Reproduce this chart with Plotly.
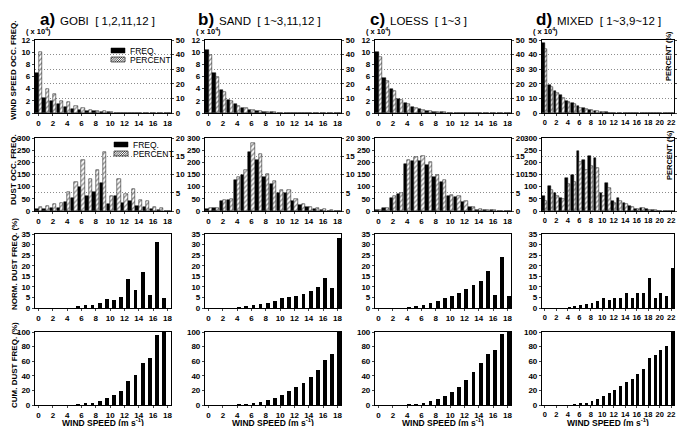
import plotly.graph_objects as go

W, H = 685, 426

# ---------------- data ----------------
cats_abc = list(range(19))      # wind speed categories 0..18 (m/s)
cats_d = list(range(23))        # wind speed categories 0..22 (m/s)

# Row 1: wind speed occurrence frequency (x10^4) and percent
ws_freq_gobi = [6.6, 2.5, 2.0, 1.4, 1.0, 0.7, 0.5, 0.4, 0.3, 0.2, 0.1, 0.05, 0.05, 0.02, 0.01, 0, 0, 0, 0]
ws_pct_gobi = [41.7, 16.2, 12.9, 8.3, 7.5, 5.0, 3.7, 2.1, 1.5, 1.2, 0.6, 0.3, 0.2, 0.1, 0.05, 0, 0, 0, 0]
ws_freq_sand = [10.3, 6.5, 3.8, 2.1, 1.4, 0.85, 0.5, 0.3, 0.15, 0.1, 0.05, 0.02, 0, 0, 0, 0, 0, 0, 0]
ws_pct_sand = [39.6, 24.6, 14.6, 8.0, 5.0, 3.3, 2.0, 1.2, 0.6, 0.4, 0.2, 0.1, 0, 0, 0, 0, 0, 0, 0]
ws_freq_loess = [10.0, 5.7, 4.0, 2.3, 1.7, 1.0, 0.6, 0.35, 0.2, 0.1, 0.05, 0.02, 0, 0, 0, 0, 0, 0, 0]
ws_pct_loess = [38.3, 21.7, 15.0, 9.2, 6.3, 3.7, 1.9, 1.2, 0.6, 0.4, 0.2, 0.1, 0, 0, 0, 0, 0, 0, 0]
ws_freq_mixed = [48, 19, 15, 12, 8.5, 7, 4.5, 3.5, 2, 1.5, 1, 0.5, 0.2, 0.1, 0, 0, 0, 0, 0, 0, 0, 0, 0]
ws_pct_mixed = [44, 18, 14, 10, 7.5, 6, 3.7, 3, 1.8, 1.2, 0.6, 0.3, 0.1, 0, 0, 0, 0, 0, 0, 0, 0, 0, 0]

# Row 2: dust occurrence frequency and percent
du_freq_gobi = [8, 10, 13, 13, 35, 55, 100, 62, 78, 115, 28, 62, 33, 42, 20, 18, 8, 5, 0]
du_pct_gobi = [1.1, 1.3, 2.0, 2.1, 5.2, 8.0, 13.9, 8.9, 11.3, 16.2, 4.1, 8.9, 4.7, 5.9, 3.0, 2.7, 1.2, 0.7, 0]
du_freq_sand = [10, 12, 40, 45, 128, 148, 242, 208, 138, 110, 76, 76, 42, 25, 15, 8, 5, 2, 1]
du_pct_sand = [0.7, 0.9, 3.0, 3.2, 9.3, 11.3, 18.5, 15.7, 10.1, 8.1, 5.8, 5.8, 3.2, 2.0, 1.2, 0.7, 0.5, 0.2, 0.1]
du_freq_loess = [3, 12, 55, 68, 195, 205, 205, 188, 138, 118, 60, 58, 38, 18, 6, 3, 4, 2, 1]
du_pct_loess = [0.3, 0.9, 4.0, 4.8, 14.1, 14.8, 15.0, 13.5, 10.0, 8.5, 4.3, 4.1, 2.7, 1.2, 0.5, 0.2, 0.3, 0.1, 0.1]
du_freq_mixed = [60, 103, 72, 55, 135, 148, 245, 208, 228, 218, 75, 115, 40, 52, 32, 20, 10, 12, 8, 4, 1, 1, 1]
du_pct_mixed = [2.7, 5.7, 4.0, 3.2, 7.3, 8.0, 13.3, 11.3, 12.3, 11.9, 4.0, 6.2, 2.2, 2.8, 1.8, 1.1, 0.6, 0.7, 0.4, 0.2, 0.1, 0.1, 0.1]

# Row 3: normalized dust frequency (%)
norm_gobi = [0, 0, 0, 0, 0, 0.6, 1.3, 1.5, 2.3, 4.3, 4.0, 5.3, 13.5, 8.5, 17.0, 6.3, 31.0, 4.5, 0]
norm_sand = [0, 0, 0, 0, 0.3, 0.8, 1.2, 1.8, 2.5, 3.3, 4.5, 5.0, 5.5, 6.5, 8.0, 10.0, 14.0, 9.5, 33.0]
norm_loess = [0, 0, 0, 0, 0.3, 0.8, 1.5, 2.5, 3.5, 4.5, 5.5, 7.0, 9.0, 11.0, 13.0, 17.5, 6.0, 24.0, 5.5]
norm_mixed = [0, 0, 0, 0, 0.3, 0.7, 1.2, 1.8, 2.3, 3.2, 4.5, 4.0, 4.7, 4.5, 7.0, 4.5, 7.0, 7.0, 14.0, 4.8, 7.2, 5.7, 18.7]

# Row 4: cumulative dust frequency (%)
cum_gobi = [0, 0, 0, 0, 0, 0.5, 1.5, 2.5, 5.5, 10, 14, 19.5, 33, 41, 58, 64, 96, 100, 0]
cum_sand = [0, 0, 0, 0, 0.3, 1, 2, 4, 6.5, 9.5, 14, 19, 24, 30, 38, 48, 62, 70, 100]
cum_loess = [0, 0, 0, 0, 0.3, 1, 2.5, 5, 8.5, 13, 18, 25, 34, 45, 58, 70, 76, 97, 100]
cum_mixed = [0, 0, 0, 0, 0, 0.5, 1.5, 3, 5.5, 8, 13, 17, 21, 26, 32, 36, 43, 49, 64, 69, 76, 81, 100]

titles = [("a)", "GOBI  [ 1,2,11,12 ]"), ("b)", "SAND  [ 1~3,11,12 ]"),
          ("c)", "LOESS  [ 1~3 ]"), ("d)", "MIXED  [ 1~3,9~12 ]")]
row_titles = ["WIND SPEED OCC. FREQ.", "DUST OCC. FREQ.", "NORM. DUST FREQ. (%)", "CUM. DUST FREQ. (%)"]

cats = [cats_abc, cats_abc, cats_abc, cats_d]
row1 = [(ws_freq_gobi, ws_pct_gobi), (ws_freq_sand, ws_pct_sand), (ws_freq_loess, ws_pct_loess), (ws_freq_mixed, ws_pct_mixed)]
row2 = [(du_freq_gobi, du_pct_gobi), (du_freq_sand, du_pct_sand), (du_freq_loess, du_pct_loess), (du_freq_mixed, du_pct_mixed)]
row3 = [norm_gobi, norm_sand, norm_loess, norm_mixed]
row4 = [cum_gobi, cum_sand, cum_loess, cum_mixed]

# ---------------- geometry (pixels) ----------------
col_px = [(27, 163), (197, 333), (367, 503), (534, 666)]
row_px = [(32, 105), (130, 203), (226, 300), (324, 397)]
single_offset = [0.28, 0.0, 0.0, -0.05]   # left edge of single bars relative to category
title_label_right = [48, 207, 378, 545]
row_title_center = [62, 162, 256, 357]

def xd(a, b):
    return [a / W, b / W]

def yd(t, b):
    return [1 - b / H, 1 - t / H]

def px(x):
    return x / W

def py(y):
    return 1 - y / H

FONT = "Liberation Sans, Arial, sans-serif"
tickfont = dict(family=FONT, size=8, color="black", weight="bold")
tickfont_small = dict(family=FONT, size=7.5, color="black", weight="bold")

fig = go.Figure()
layout = {}

hatch = dict(shape="/", fgcolor="black", bgcolor="white", size=3.5, solidity=0.35)

for c in range(4):
    xs = cats[c]
    for r in range(4):
        p = r * 4 + c + 1
        xa = f"x{p}"
        ya = f"y{p}"
        if r < 2:
            freq, pct = (row1 if r == 0 else row2)[c]
            ra = 16 + r * 4 + c + 1
            fig.add_trace(go.Bar(x=xs, y=freq, xaxis=xa, yaxis=ya, width=0.46, offset=-0.47,
                                 marker=dict(color="black", line=dict(color="black", width=0.5)),
                                 name="FREQ.", showlegend=False))
            fig.add_trace(go.Bar(x=xs, y=pct, xaxis=xa, yaxis=f"y{ra}", width=0.46, offset=-0.01,
                                 marker=dict(color="white", pattern=hatch, line=dict(color="black", width=0.5)),
                                 name="PERCENT", showlegend=False))
        else:
            vals = (row3 if r == 2 else row4)[c]
            fig.add_trace(go.Bar(x=xs, y=vals, xaxis=xa, yaxis=ya, width=0.52, offset=single_offset[c],
                                 marker=dict(color="black", line=dict(width=0)), showlegend=False))

        n = len(xs)
        layout[f"xaxis{p}"] = dict(domain=xd(*col_px[c]), anchor=ya, range=[-0.5, n - 0.5],
                                   tickvals=list(range(0, n, 2)), ticks="outside", ticklen=2,
                                   showline=True, linecolor="black", linewidth=1.2, mirror=True,
                                   showgrid=False, zeroline=False,
                                   tickfont=(tickfont_small if c == 3 else tickfont),
                                   fixedrange=True, automargin=False)
        if r == 0:
            yr, dt = ([0, 50], 10) if c == 3 else ([0, 12], 2)
        elif r == 1:
            yr, dt = [0, 300], 50
        elif r == 2:
            yr, dt = [0, 35], 5
        else:
            yr, dt = [0, 100], 20
        layout[f"yaxis{p}"] = dict(domain=yd(*row_px[r]), anchor=xa, range=yr, dtick=dt,
                                   ticks="outside", ticklen=2, showline=True, linecolor="black",
                                   linewidth=1.2, mirror=(r >= 2), showgrid=False, zeroline=False,
                                   tickfont=tickfont, fixedrange=True, automargin=False)
        if r < 2:
            ra = 16 + r * 4 + c + 1
            rr, rdt = ([0, 50], 10) if r == 0 else ([0, 20], 5)
            layout[f"yaxis{ra}"] = dict(overlaying=ya, side="right", anchor=xa, range=rr, dtick=rdt,
                                        ticks="outside", ticklen=2, showline=True, linecolor="black",
                                        linewidth=1.2, showgrid=True, gridcolor="#8c8c8c",
                                        griddash="1px,2px", gridwidth=1, zeroline=False,
                                        tickfont=(tickfont_small if c == 3 else tickfont),
                                        fixedrange=True, automargin=False)

annotations = []
for c in range(4):
    x0, x1 = col_px[c]
    lr = title_label_right[c]
    annotations.append(dict(xref="paper", yref="paper", x=px(lr + 1), y=py(12),
                            xanchor="right", yanchor="middle", showarrow=False,
                            text=f"<b>{titles[c][0]}</b>",
                            font=dict(family=FONT, size=17, color="black")))
    annotations.append(dict(xref="paper", yref="paper", x=px(lr + 2), y=py(13),
                            xanchor="left", yanchor="middle", showarrow=False,
                            text=titles[c][1], font=dict(family=FONT, size=11.5, color="black")))
    annotations.append(dict(xref="paper", yref="paper", x=px(x0 - 11), y=py(23),
                            xanchor="left", yanchor="middle", showarrow=False,
                            text="<b>( x 10<sup>4</sup>)</b>",
                            font=dict(family=FONT, size=7.5, color="black")))

for r in range(4):
    annotations.append(dict(xref="paper", yref="paper", x=px(6), y=py(row_title_center[r]),
                            xanchor="center", yanchor="middle", showarrow=False, textangle=-90,
                            text=f"<b>{row_titles[r]}</b>",
                            font=dict(family=FONT, size=8, color="black")))

# "PERCENT (%)" labels drawn just inside the right axis of panel d
for yc in (48, 147):
    annotations.append(dict(xref="paper", yref="paper", x=px(661), y=py(yc),
                            xanchor="center", yanchor="middle", showarrow=False, textangle=-90,
                            text="<b>PERCENT (%)</b>",
                            font=dict(family=FONT, size=7.5, color="black")))

for c in range(4):
    x0, x1 = col_px[c]
    annotations.append(dict(xref="paper", yref="paper", x=px((x0 + x1) / 2), y=py(414),
                            xanchor="center", yanchor="middle", showarrow=False,
                            text="<b>WIND SPEED (m s<sup>-1</sup>)</b>",
                            font=dict(family=FONT, size=8.5, color="black")))

# legends (panel a, rows 1 and 2)
shapes = []
def hatched_box(x0, y0, x1, y1, step=2.2):
    segs = []
    h = y1 - y0
    k = x0 - h
    while k < x1:
        sx, sy, ex, ey = k, y1, k + h, y0
        if sx < x0:
            sy = y1 - (x0 - sx)
            sx = x0
        if ex > x1:
            ey = y0 + (ex - x1)
            ex = x1
        if ex > sx:
            segs.append(f"M{px(sx)},{py(sy)}L{px(ex)},{py(ey)}")
        k += step
    shapes.append(dict(type="rect", xref="paper", yref="paper", x0=px(x0), x1=px(x1),
                       y0=py(y1), y1=py(y0), fillcolor="white", line=dict(color="black", width=0.6)))
    shapes.append(dict(type="path", xref="paper", yref="paper", path="".join(segs),
                       line=dict(color="black", width=0.7)))

for (bx, by_f, by_p) in [(103, 40, 49), (106, 134, 143)]:
    shapes.append(dict(type="rect", xref="paper", yref="paper", x0=px(bx), x1=px(bx + 14),
                       y0=py(by_f + 5), y1=py(by_f), fillcolor="black", line=dict(color="black", width=0.5)))
    hatched_box(bx, by_p, bx + 14, by_p + 5)
    annotations.append(dict(xref="paper", yref="paper", x=px(bx + 17), y=py(by_f + 2.5),
                            xanchor="left", yanchor="middle", showarrow=False, text="FREQ.",
                            font=dict(family=FONT, size=8.5, color="black")))
    annotations.append(dict(xref="paper", yref="paper", x=px(bx + 17), y=py(by_p + 2.5),
                            xanchor="left", yanchor="middle", showarrow=False, text="PERCENT",
                            font=dict(family=FONT, size=8.5, color="black")))

fig.update_layout(
    width=W, height=H, margin=dict(l=0, r=0, t=0, b=0, autoexpand=False),
    paper_bgcolor="white", plot_bgcolor="white",
    barmode="overlay", bargap=0, showlegend=False,
    annotations=annotations, shapes=shapes,
    **layout,
)

fig.write_html("out.html")
